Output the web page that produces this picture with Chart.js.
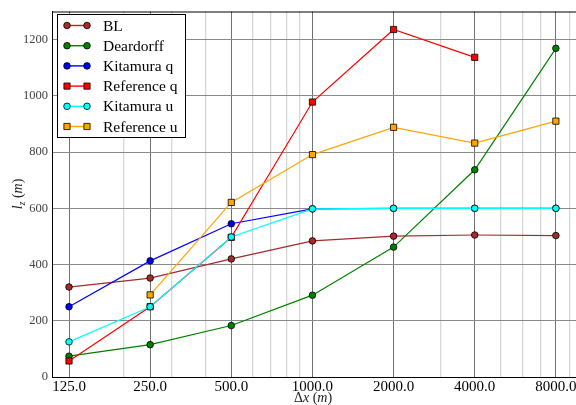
<!DOCTYPE html>
<html>
<head>
<meta charset="utf-8">
<script src="https://cdn.jsdelivr.net/npm/chart.js@4/dist/chart.umd.min.js"></script>
<style>
  html, body { margin: 0; padding: 0; background: #fff; overflow: hidden; }
  #wrap { width: 590px; height: 405px; }
</style>
</head>
<body>
<div id="wrap"><canvas id="c" width="590" height="405"></canvas></div>
<script>
// Grid spacing Δx (m)
const categories = [125, 250, 500, 1000, 2000, 4000, 8000];

// Length scale l_z (m) for each scheme
const blValues        = [320, 352, 420, 484, 501, 505, 503];
const deardorffValues = [74, 115, 183, 291, 462, 737, 1169];
const kitamuraQValues = [250, 413, 545, 598, 600, 600, 600];
const referenceQValues = [57, 250, 497, 978, 1236, 1137, null];
const kitamuraUValues = [125, 250, 498, 598, 600, 600, 600];
const referenceUValues = [null, 292, 621, 791, 888, 832, 910];

// Axis ticks
const xMajorTicks = [125, 250, 500, 1000, 2000, 4000, 8000];
const xMinorTicks = [200, 300, 400, 600, 700, 800, 900, 2000, 3000, 5000, 6000, 7000, 9000];
const yTicks = [0, 200, 400, 600, 800, 1000, 1200];

const SERIF = "'Liberation Serif', 'DejaVu Serif', serif";

function series(label, values, color, pointStyle, order) {
  return {
    label,
    data: categories.map((x, i) => ({ x, y: values[i] })),
    borderColor: color,
    backgroundColor: color,
    pointBackgroundColor: color,
    pointBorderColor: '#000',
    pointBorderWidth: 0.8,
    pointStyle,
    pointRadius: pointStyle === 'rect' ? 4.4 : 3.3,
    pointHoverRadius: pointStyle === 'rect' ? 4.4 : 3.3,
    borderWidth: 1.2,
    tension: 0,
    spanGaps: false,
    order
  };
}

const datasets = [
  series('BL', blValues, '#a52a2a', 'circle', 5),
  series('Deardorff', deardorffValues, '#008000', 'circle', 4),
  series('Kitamura q', kitamuraQValues, '#0000ff', 'circle', 3),
  series('Reference q', referenceQValues, '#ff0000', 'rect', 2),
  series('Kitamura u', kitamuraUValues, '#00ffff', 'circle', 1),
  series('Reference u', referenceUValues, '#ffa500', 'rect', 0)
];

const majorSet = new Set(xMajorTicks);

function drawMarker(ctx, style, x, y, color) {
  ctx.save();
  ctx.fillStyle = color;
  ctx.strokeStyle = '#000';
  ctx.lineWidth = 0.8;
  ctx.beginPath();
  if (style === 'rect') {
    ctx.rect(x - 3.1, y - 3.1, 6.2, 6.2);
  } else {
    ctx.arc(x, y, 3.3, 0, Math.PI * 2);
  }
  ctx.fill();
  ctx.stroke();
  ctx.restore();
}

// Frame top edge, boxed legend and math-style axis titles
const decorations = {
  id: 'decorations',
  afterDraw(chart) {
    const ctx = chart.ctx;
    const a = chart.chartArea;
    ctx.save();
    ctx.strokeStyle = '#000';
    ctx.lineWidth = 1;
    ctx.beginPath();
    ctx.moveTo(a.left, a.top + 0.5);
    ctx.lineTo(a.right, a.top + 0.5);
    ctx.stroke();

    // legend
    const lx = 57.5, ly = 14.5, lw = 128, lh = 123;
    ctx.fillStyle = '#fff';
    ctx.fillRect(lx, ly, lw, lh);
    ctx.strokeStyle = '#000';
    ctx.lineWidth = 1;
    ctx.strokeRect(lx, ly, lw, lh);
    ctx.font = '15.5px ' + SERIF;
    ctx.textBaseline = 'middle';
    ctx.textAlign = 'left';
    chart.data.datasets.forEach((ds, i) => {
      const y = 25.5 + i * 20.2;
      ctx.strokeStyle = ds.borderColor;
      ctx.lineWidth = 1.4;
      ctx.beginPath();
      ctx.moveTo(67, y);
      ctx.lineTo(87, y);
      ctx.stroke();
      drawMarker(ctx, ds.pointStyle, 67, y, ds.borderColor);
      drawMarker(ctx, ds.pointStyle, 87, y, ds.borderColor);
      ctx.fillStyle = '#000';
      ctx.fillText(ds.label, 103, y + 1);
    });

    // x title: Δx (m)
    const up = '14px ' + SERIF, it = 'italic 14px ' + SERIF;
    const xParts = [['Δ', up], ['x', it], [' (', up], ['m', it], [')', up]];
    let total = 0;
    xParts.forEach(p => { ctx.font = p[1]; total += ctx.measureText(p[0]).width; });
    let cx = 313 - total / 2;
    ctx.fillStyle = '#222';
    ctx.textBaseline = 'alphabetic';
    xParts.forEach(p => { ctx.font = p[1]; ctx.fillText(p[0], cx, 402); cx += ctx.measureText(p[0]).width; });

    // y title: l_z (m)
    ctx.translate(22, 194);
    ctx.rotate(-Math.PI / 2);
    const sub = 'italic 10px ' + SERIF;
    const yParts = [['l', it, 0], ['z', sub, 3], [' (', up, 0], ['m', it, 0], [')', up, 0]];
    total = 0;
    yParts.forEach(p => { ctx.font = p[1]; total += ctx.measureText(p[0]).width; });
    cx = -total / 2;
    yParts.forEach(p => { ctx.font = p[1]; ctx.fillText(p[0], cx, p[2]); cx += ctx.measureText(p[0]).width; });
    ctx.restore();
  }
};

new Chart(document.getElementById('c'), {
  type: 'line',
  data: { datasets },
  options: {
    responsive: false,
    animation: false,
    events: [],
    layout: { padding: { top: 7, right: 8, left: 0, bottom: 0 } },
    plugins: {
      legend: { display: false },
      tooltip: { enabled: false },
      title: { display: false }
    },
    scales: {
      x: {
        type: 'logarithmic',
        min: 108.1,
        max: 10000,
        afterBuildTicks(scale) {
          scale.ticks = xMajorTicks.concat(xMinorTicks.filter(v => !majorSet.has(v)))
            .sort((p, q) => p - q)
            .map(v => ({ value: v, major: majorSet.has(v) }));
        },
        afterFit(scale) { scale.height = 28; },
        ticks: {
          autoSkip: false,
          maxRotation: 0,
          padding: 1,
          color: '#000',
          font: { family: SERIF, size: 15 },
          callback(value) { return majorSet.has(value) ? value.toFixed(1) : ''; }
        },
        grid: {
          drawTicks: false,
          lineWidth: ctx => (ctx.tick && majorSet.has(ctx.tick.value)) ? 1 : 1.3,
          color: ctx => (ctx.tick && majorSet.has(ctx.tick.value)) ? '#707070' : '#d6d6d6'
        },
        border: { display: true, color: '#000', width: 1 }
      },
      y: {
        type: 'linear',
        min: 0,
        max: 1300,
        afterBuildTicks(scale) {
          scale.ticks = yTicks.map(v => ({ value: v }));
        },
        afterFit(scale) { scale.width = 52; },
        ticks: {
          padding: 4,
          color: '#444',
          font: { family: SERIF, size: 12.5 },
          callback(value) { return String(value); }
        },
        grid: {
          drawTicks: false,
          color: '#8a8a8a',
          lineWidth: 1
        },
        border: { display: true, color: '#000', width: 1 }
      }
    }
  },
  plugins: [decorations]
});
</script>
</body>
</html>
